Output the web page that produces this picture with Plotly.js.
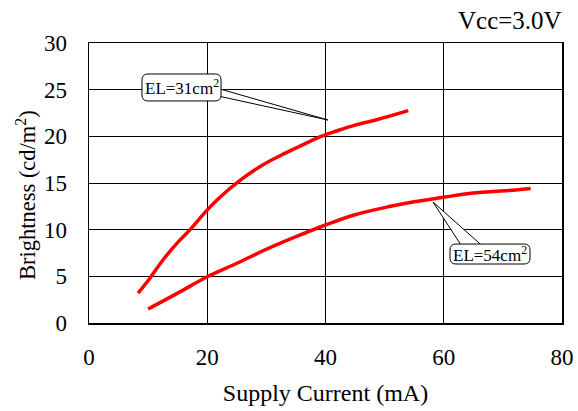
<!DOCTYPE html>
<html>
<head>
<meta charset="utf-8">
<script src="https://cdn.plot.ly/plotly-3.0.1.min.js"></script>
<style>html,body{margin:0;padding:0;background:#fff}#chart{width:578px;height:411px}</style>
</head>
<body>
<div id="chart"></div>
<script>
const current31 = [8.3, 10.3, 12.5, 15.4, 17.1, 19.7, 22.2, 25.6, 29.3, 33.2, 36.5, 39.5, 42, 45, 48.8, 54];
const bright31  = [3.2, 4.8, 6.75, 8.9, 10, 11.9, 13.5, 15.3, 16.9, 18.2, 19.2, 20.05, 20.6, 21.2, 21.8, 22.75];
const current54 = [10, 15, 20, 25, 30, 35, 40, 45, 51, 55, 60, 64.6, 72.2, 74.7];
const bright54  = [1.5, 3.2, 4.95, 6.4, 7.9, 9.25, 10.5, 11.6, 12.5, 13, 13.47, 13.9, 14.25, 14.4];
const xTicks = [0, 20, 40, 60, 80];
const yTicks = [0, 5, 10, 15, 20, 25, 30];
const label31 = 'EL=31cm<sup>2</sup>';
const label54 = 'EL=54cm<sup>2</sup>';

const FONT = 'Liberation Serif, Times New Roman, serif';

function rrect(x0, x1, y0, y1, rx, ry) {
  return `M${x0+rx},${y1} L${x1-rx},${y1} Q${x1},${y1} ${x1},${y1-ry} L${x1},${y0+ry} Q${x1},${y0} ${x1-rx},${y0} L${x0+rx},${y0} Q${x0},${y0} ${x0},${y0+ry} L${x0},${y1-ry} Q${x0},${y1} ${x0+rx},${y1} Z`;
}

const traces = [
  {x: current31, y: bright31, mode: 'lines', line: {color: '#ff0000', width: 3.5, shape: 'spline'}, hoverinfo: 'skip'},
  {x: current54, y: bright54, mode: 'lines', line: {color: '#ff0000', width: 3.5, shape: 'spline'}, hoverinfo: 'skip'}
];

const shapes = [
  {type: 'path', xref: 'x', yref: 'y', layer: 'above', path: 'M22.0,25.1 L40.42,21.75 L22.0,24.3 Z', fillcolor: '#fff', line: {color: '#000', width: 1}},
  {type: 'path', xref: 'x', yref: 'y', layer: 'above', path: rrect(8.96, 22.33, 23.79, 26.68, 1.0, 0.64), fillcolor: '#fff', line: {color: '#000', width: 1}},
  {type: 'path', xref: 'x', yref: 'y', layer: 'above', path: 'M63.08,8.2 L58.18,12.96 L66.64,8.2 Z', fillcolor: '#fff', line: {color: '#000', width: 1}},
  {type: 'path', xref: 'x', yref: 'y', layer: 'above', path: rrect(61.06, 74.59, 6.32, 8.46, 1.0, 0.64), fillcolor: '#fff', line: {color: '#000', width: 1}}
];

const layout = {
  width: 578, height: 411,
  margin: {l: 89, r: 16, t: 43, b: 88},
  paper_bgcolor: '#fff', plot_bgcolor: '#fff',
  showlegend: false,
  font: {family: FONT, color: '#000', size: 20},
  xaxis: {
    range: [0, 80], tickvals: xTicks, ticktext: xTicks.map(String),
    showgrid: true, gridcolor: '#000', gridwidth: 1,
    showline: true, linecolor: '#000', linewidth: 1.5, mirror: true,
    zeroline: false, ticks: '', ticklabelstandoff: 13,
    tickfont: {family: FONT, size: 23, color: '#000'},
    title: {text: 'Supply Current (mA)', font: {family: FONT, size: 24, color: '#000'}, standoff: 15}
  },
  yaxis: {
    range: [0, 30], tickvals: yTicks, ticktext: yTicks.map(String),
    showgrid: true, gridcolor: '#000', gridwidth: 1,
    showline: true, linecolor: '#000', linewidth: 1.5, mirror: true,
    zeroline: false, ticks: '', ticklabelstandoff: 16,
    tickfont: {family: FONT, size: 23, color: '#000'}
  },
  shapes: shapes,
  annotations: [
    {xref: 'x', yref: 'y', x: 15.65, y: 25.25, text: label31, showarrow: false, font: {family: FONT, size: 17, color: '#000'}},
    {xref: 'x', yref: 'y', x: 67.8, y: 7.39, text: label54, showarrow: false, font: {family: FONT, size: 17, color: '#000'}},
    {xref: 'paper', yref: 'paper', x: (510 - 89) / 473, y: 1 + (43 - 20) / 280, xanchor: 'center', yanchor: 'middle', text: 'Vcc=3.0V', showarrow: false, font: {family: FONT, size: 25, color: '#000'}},
    {xref: 'paper', yref: 'paper', x: (26 - 89) / 473, y: (323 - 195) / 280, xanchor: 'center', yanchor: 'middle', textangle: -90, text: 'Brightness (cd/m<sup>2</sup>)', showarrow: false, font: {family: FONT, size: 22.5, color: '#000'}}
  ]
};

Plotly.newPlot('chart', traces, layout, {displayModeBar: false, staticPlot: true});
</script>
</body>
</html>
